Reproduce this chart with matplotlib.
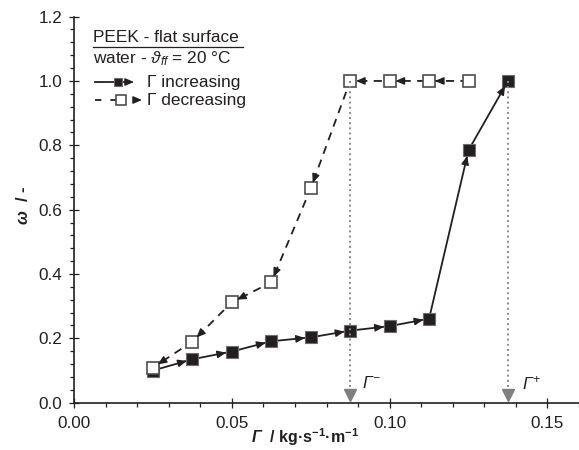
import numpy as np
import matplotlib
matplotlib.use("Agg")
import matplotlib.pyplot as plt
from matplotlib.ticker import MultipleLocator, FormatStrFormatter
from matplotlib.lines import Line2D

plt.rcParams['font.family'] = ['Liberation Sans', 'DejaVu Sans']
plt.rcParams['mathtext.fontset'] = 'custom'
plt.rcParams['mathtext.rm'] = 'Liberation Sans'
plt.rcParams['mathtext.it'] = 'Liberation Sans:italic'
plt.rcParams['mathtext.sf'] = 'Liberation Sans:italic'
plt.rcParams['mathtext.bf'] = 'Liberation Sans:bold'
plt.rcParams['mathtext.bfit'] = 'Liberation Sans:italic:bold'

# ---- data ----
gamma_inc = [0.025, 0.0375, 0.05, 0.0625, 0.075, 0.0875, 0.1, 0.1125, 0.125, 0.1375]
omega_inc = [0.10, 0.135, 0.159, 0.191, 0.203, 0.224, 0.238, 0.261, 0.785, 1.0]
gamma_dec = [0.125, 0.1125, 0.1, 0.0875, 0.075, 0.0625, 0.05, 0.0375, 0.025]
omega_dec = [1.0, 1.0, 1.0, 1.0, 0.666, 0.374, 0.312, 0.190, 0.109]
gamma_minus = 0.0875
gamma_plus = 0.1375
xticks = [0.00, 0.05, 0.10, 0.15]
yticks = [0.0, 0.2, 0.4, 0.6, 0.8, 1.0, 1.2]

W, H = 579, 450
fig = plt.figure(figsize=(W / 100, H / 100), dpi=100)
x0, x1 = 74, 579
yb, yt = 402.7, 16.6
ax = fig.add_axes([x0 / W, 1 - yb / H, (x1 - x0) / W, (yb - yt) / H])
ax.set_xlim(0, 0.16)
ax.set_ylim(0, 1.2)

dark = '#231f20'
for s in ['top', 'right']:
    ax.spines[s].set_visible(False)
for s in ['left', 'bottom']:
    ax.spines[s].set_linewidth(1.2)
    ax.spines[s].set_color(dark)

ax.set_xticks(xticks)
ax.set_yticks(yticks)
ax.xaxis.set_major_formatter(FormatStrFormatter('%.2f'))
ax.yaxis.set_major_formatter(FormatStrFormatter('%.1f'))
ax.xaxis.set_minor_locator(MultipleLocator(0.01))
ax.yaxis.set_minor_locator(MultipleLocator(0.04))
ax.tick_params(which='major', direction='inout', length=7, width=0.9, color=dark,
               labelsize=12.3, labelcolor=dark)
ax.tick_params(axis='x', which='major', pad=6)
ax.tick_params(axis='y', which='major', pad=5)
ax.tick_params(which='minor', direction='out', length=3, width=0.9, color=dark)

# lines
ax.plot(gamma_inc, omega_inc, '-', color=dark, lw=1.3, zorder=2)
ax.plot(gamma_dec, omega_dec, '--', color=dark, lw=1.3, dashes=(4.5, 3.5), zorder=2)

# dotted guide lines
for g in [gamma_minus, gamma_plus]:
    ax.plot([g, g], [1.0, 0.03], ':', color='#8a8a8a', lw=1.4, zorder=5)
    ax.plot([g], [0.025], marker='v', ms=9, color='#7f7f7f', mec='#7f7f7f', zorder=5,
            clip_on=False)

# markers
ax.plot(gamma_dec, omega_dec, 's', ms=8.5, mfc='white', mec='#4d4d4d', mew=1.2, zorder=4)
ax.plot(gamma_inc, omega_inc, 's', ms=8.5, mfc=dark, mec='#6d6d6d', mew=0.8, zorder=3)

HEAD = '-|>,head_length=0.7,head_width=0.3'
MS = 7.5

# arrowheads
fig.canvas.draw()
def heads(xs, ys):
    for i in range(len(xs) - 1):
        p0 = ax.transData.transform((xs[i], ys[i]))
        p1 = ax.transData.transform((xs[i + 1], ys[i + 1]))
        d = p1 - p0
        d = d / np.hypot(*d)
        off = -d * 11
        ax.annotate('', xy=(xs[i + 1], ys[i + 1]),
                    xytext=(off[0] * 0.72, off[1] * 0.72), textcoords='offset points',
                    arrowprops=dict(arrowstyle=HEAD, color=dark, lw=1.0, shrinkA=0,
                                    shrinkB=4.2, mutation_scale=MS),
                    zorder=6)
heads(gamma_inc, omega_inc)
heads(gamma_dec, omega_dec)

def px2ax(px, py):
    return (px - x0) / (x1 - x0), (yb - py) / (yb - yt)

# Gamma labels
ax.text(*px2ax(362, 383), r'$\mathsf{\Gamma}^{\mathsf{-}}$', transform=ax.transAxes,
        fontsize=12.5, ha='left', va='center', color=dark)
ax.text(*px2ax(522, 383), r'$\mathsf{\Gamma}^{\mathsf{+}}$', transform=ax.transAxes,
        fontsize=12.5, ha='left', va='center', color=dark)

FS = 12.4
# legend-like annotation box
tx, ty = px2ax(93, 38)
ax.text(tx, ty, 'PEEK - flat surface', transform=ax.transAxes, fontsize=FS,
        ha='left', va='center', color=dark)
ux0, uy = px2ax(93, 46.5)
ux1, _ = px2ax(243, 46.5)
ax.add_line(Line2D([ux0, ux1], [uy, uy], transform=ax.transAxes, color=dark, lw=0.9))
wx, wy = px2ax(93, 59)
ax.text(wx, wy, r'water - $\mathit{\vartheta}_{\mathit{ff}}$ = 20 °C', transform=ax.transAxes,
        fontsize=FS, ha='left', va='center', color=dark)

# row 1: increasing
la, r1 = px2ax(95, 82)
lb, _ = px2ax(128, 82)
lm, _ = px2ax(118, 82)
ax.add_line(Line2D([la, lb], [r1, r1], transform=ax.transAxes, color=dark, lw=1.3))
ax.add_line(Line2D([lm], [r1], transform=ax.transAxes, marker='s', ms=6, mfc=dark,
                   mec='#6d6d6d', mew=0.8, ls='none'))
ha0, _ = px2ax(125, 82)
ha1, _ = px2ax(134, 82)
ax.annotate('', xy=(ha1, r1), xytext=(ha0, r1), xycoords='axes fraction',
            arrowprops=dict(arrowstyle=HEAD, color=dark, lw=1.0, shrinkA=0, shrinkB=0,
                            mutation_scale=MS))
tx1, _ = px2ax(147, 82)
ax.text(tx1, r1, 'Γ increasing', transform=ax.transAxes, fontsize=FS, ha='left',
        va='center', color=dark)

# row 2: decreasing
la, r2 = px2ax(95, 100)
lb, _ = px2ax(117, 100)
lm, _ = px2ax(121, 100)
ax.add_line(Line2D([la, lb], [r2, r2], transform=ax.transAxes, color=dark, lw=1.3,
                   ls='--', dashes=(3.5, 5)))
ax.add_line(Line2D([lm], [r2], transform=ax.transAxes, marker='s', ms=7, mfc='white',
                   mec='#4d4d4d', mew=1.2, ls='none'))
ha0, _ = px2ax(134, 100)
ha1, _ = px2ax(142, 100)
ax.annotate('', xy=(ha1, r2), xytext=(ha0, r2), xycoords='axes fraction',
            arrowprops=dict(arrowstyle=HEAD, color=dark, lw=1.0, shrinkA=0, shrinkB=0,
                            mutation_scale=MS))
tx2, _ = px2ax(147, 100)
ax.text(tx2, r2, 'Γ decreasing', transform=ax.transAxes, fontsize=FS, ha='left',
        va='center', color=dark)

# axis labels
fig.text(305 / W, 1 - 437 / H,
         r'$\mathbfit{\Gamma}$  / kg·s$^{\mathbf{-1}}$·m$^{\mathbf{-1}}$',
         fontsize=11.5, fontweight='bold', ha='center', va='center', color=dark)
fig.text(23 / W, 1 - 205 / H, r'$\mathbfit{\omega}$  / -', rotation=90,
         fontsize=12, fontweight='bold', ha='center', va='center', color=dark)

fig.savefig('out.png', dpi=100)
